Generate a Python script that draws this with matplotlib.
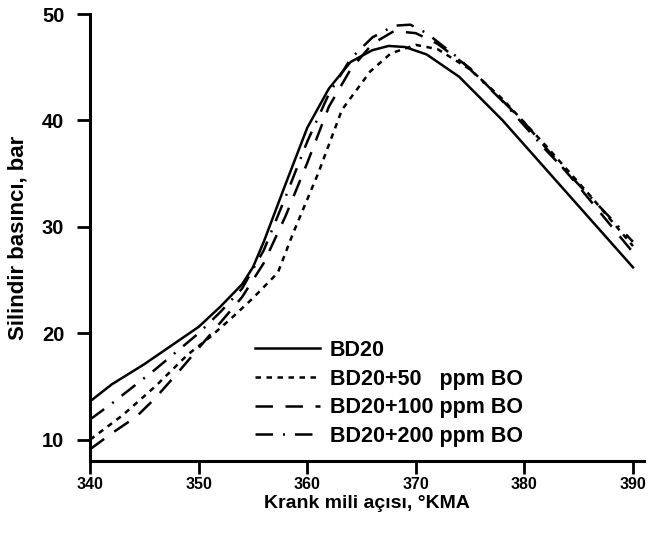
import matplotlib
matplotlib.use("Agg")
import matplotlib.pyplot as plt

# crank angle (deg) and cylinder pressure (bar)
ca_bd20 = [340, 342, 345, 348, 350, 352, 354, 355, 356, 358, 360, 362, 364,
           366, 367.5, 369, 371, 374, 378, 382, 386, 390]
p_bd20 = [13.6, 15.2, 17.1, 19.2, 20.6, 22.5, 24.6, 26.2, 28.6, 34.0, 39.3,
          43.0, 45.5, 46.6, 47.0, 46.9, 46.2, 44.1, 40.0, 35.4, 30.8, 26.2]

ca_bo50 = [340, 343, 346, 349, 351, 353, 355, 357.3, 358.7, 361, 363.2,
           365.8, 367.7, 370, 372, 375, 378, 382, 386, 390]
p_bo50 = [10.0, 12.3, 15.0, 18.0, 19.6, 21.4, 23.3, 25.7, 29.4, 35.0, 41.0,
          44.6, 46.3, 47.1, 46.7, 44.8, 42.0, 37.6, 33.0, 28.2]

ca_bo100 = [340, 342, 344.3, 346, 348, 350, 352, 354, 356, 358, 360, 362,
            364, 366, 368, 370, 372, 375, 380, 385, 390]
p_bo100 = [9.1, 10.6, 12.2, 13.9, 16.2, 18.6, 21.0, 23.4, 26.6, 31.0, 36.0,
           41.3, 44.8, 47.2, 48.4, 48.2, 47.2, 44.9, 39.8, 33.8, 27.6]

ca_bo200 = [340, 342, 344, 346, 348, 350, 352, 354, 356, 358, 360, 362, 364,
            366, 368, 369.5, 371, 374, 378, 382, 386, 390]
p_bo200 = [11.9, 13.4, 15.0, 16.6, 18.3, 20.0, 22.0, 24.2, 27.8, 32.8, 38.0,
           42.5, 45.8, 47.8, 48.9, 49.0, 48.2, 45.8, 41.8, 37.2, 32.9, 28.6]

labels = ["BD20", "BD20+50   ppm BO", "BD20+100 ppm BO", "BD20+200 ppm BO"]

plt.rcParams["font.family"] = ["Liberation Sans", "DejaVu Sans"]
plt.rcParams["font.weight"] = "bold"

fig = plt.figure(figsize=(6.5, 5.35), dpi=100)
ax = fig.add_axes([0.1385, 0.1383, 0.852, 0.8355])

lw = 1.8
ax.plot(ca_bd20, p_bd20, color="black", lw=lw, ls="-", label=labels[0])
ax.plot(ca_bo50, p_bo50, color="black", lw=lw, ls=(0, (2.2, 2.2)), label=labels[1])
ax.plot(ca_bo100, p_bo100, color="black", lw=lw, ls=(0, (7, 5)), label=labels[2])
ax.plot(ca_bo200, p_bo200, color="black", lw=lw, ls=(0, (7, 4, 0.8, 4)),
        label=labels[3])

ax.set_xlim(340, 391)
ax.set_ylim(8, 50)
ax.set_xticks([340, 350, 360, 370, 380, 390])
ax.set_yticks([10, 20, 30, 40, 50])

for side in ["top", "right"]:
    ax.spines[side].set_visible(False)
for side in ["left", "bottom"]:
    ax.spines[side].set_linewidth(2.2)
ax.tick_params(direction="out", length=9.5, width=2)
ax.tick_params(axis="x", labelsize=11.5, pad=2)
ax.tick_params(axis="y", labelsize=14.5, pad=9)
for lab in ax.get_xticklabels() + ax.get_yticklabels():
    lab.set_fontweight("bold")

ax.set_xlabel("Krank mili açısı, °KMA", fontsize=14, fontweight="bold",
              labelpad=2)
ax.set_ylabel("Silindir basıncı, bar", fontsize=16, fontweight="bold",
              labelpad=10)

ax.legend(loc="lower left", bbox_to_anchor=(0.283, 0.012), frameon=False,
          handlelength=3.0, handletextpad=0.45, labelspacing=0.36,
          borderaxespad=0, prop={"weight": "bold", "size": 15.5})

fig.savefig("out.png", dpi=100)
